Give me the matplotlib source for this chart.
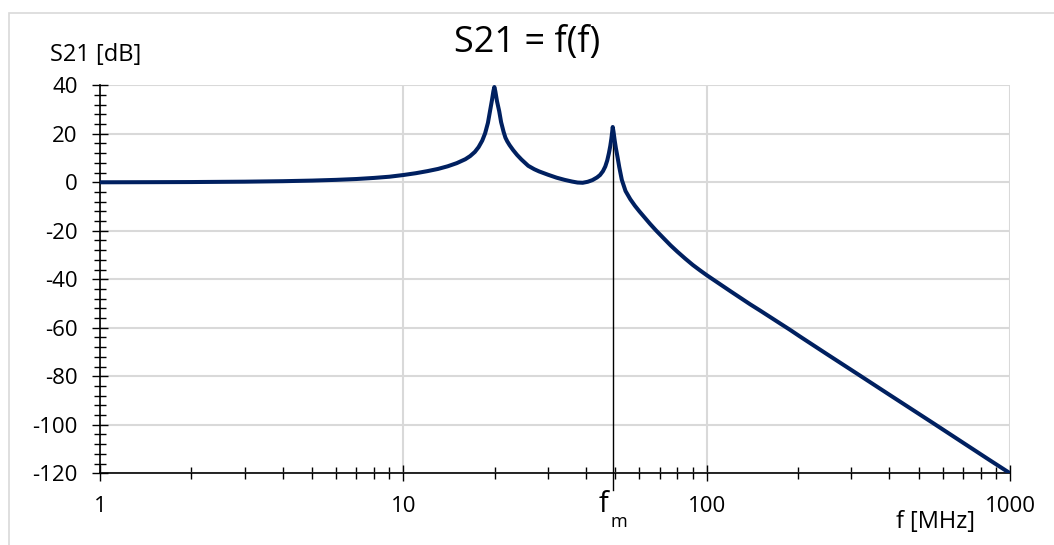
import numpy as np
import matplotlib
matplotlib.use("Agg")
import matplotlib.pyplot as plt
from matplotlib.ticker import FixedLocator, NullFormatter
from matplotlib.patches import Rectangle

plt.rcParams['font.family'] = ['Open Sans', 'DejaVu Sans']

# S21 values (f in MHz, S21 in dB)
freq = [1, 1.5, 2, 3, 4, 5, 6, 7, 8, 9, 10, 11, 12, 13, 14, 15, 16, 16.6,
        17.2, 17.7, 18.2, 18.6, 19.0, 19.3, 19.6, 19.8, 19.95, 20.1, 20.35,
        20.7, 21.0, 21.4, 21.7, 22.0, 22.4, 23.0, 23.7, 24.5, 25.8, 27, 28,
        30, 32, 34, 36, 37.5, 39, 40.5, 42, 43.5, 44.5, 45.5, 46.3, 47.0, 47.6,
        48.1, 48.5, 48.8, 49.0, 49.3, 49.7, 50.2, 50.8, 51.5, 52.5, 54, 56, 58,
        60, 62.5, 65, 68, 72, 76, 80, 85, 90, 95, 100, 105, 120, 139, 150, 175,
        188, 203, 250, 320, 400, 559, 700, 850, 1000]
s21 = [0, 0.05, 0.1, 0.25, 0.45, 0.7, 1.0, 1.35, 1.8, 2.3, 3.0, 3.75, 4.6,
       5.5, 6.6, 7.9, 9.5, 10.8, 12.5, 14.5, 17.2, 20.2, 24.5, 29.3, 34.0,
       37.5, 39.3, 37.5, 33.5, 29.3, 24.8, 20.8, 18.4, 16.9, 15.3, 13.3, 11.3,
       9.4, 6.8, 5.4, 4.5, 3.1, 1.9, 1.0, 0.3, -0.1, -0.2, 0.2, 0.9, 2.0, 3.0,
       4.6, 6.5, 9.0, 12.0, 15.0, 18.0, 20.8, 22.8, 20.8, 17.5, 14.0, 10.5,
       6.2, 1.0, -3.6, -7.0, -9.7, -12.0, -14.6, -17.1, -19.8, -23.0, -26.0,
       -28.6, -31.5, -34.1, -36.3, -38.3, -40.1, -45.0, -50.3, -52.9, -58.3,
       -60.8, -63.6, -71.0, -79.7, -87.6, -99.4, -107.4, -114.3, -120.0]
f_m = 49.0
f_m_peak = 22.8

y_major = [-120, -100, -80, -60, -40, -20, 0, 20, 40]
y_minor = list(range(-120, 41, 4))
x_major = [1, 10, 100, 1000]
x_minor = [m * d for d in (1, 10, 100) for m in range(2, 10)]

W, H = 1054, 545
fig = plt.figure(figsize=(W / 100, H / 100), dpi=100)
ax = fig.add_axes([0.0949, 0.1316, 0.8634, 0.7119])

# chart border (only top and left edges fall inside the image)
fig.patches.append(Rectangle((9 / W, -0.1), 1.2, 1 - 13 / H + 0.1,
                             transform=fig.transFigure, fill=False,
                             edgecolor='#D9D9D9', linewidth=1.2))

ax.set_xscale('log')
ax.set_xlim(1, 1000)
ax.set_ylim(-120, 40)

ax.xaxis.set_major_locator(FixedLocator(x_major))
ax.xaxis.set_minor_locator(FixedLocator(x_minor))
ax.xaxis.set_minor_formatter(NullFormatter())
ax.set_xticklabels(['1', '10', '100', '1000'])
ax.yaxis.set_major_locator(FixedLocator(y_major))
ax.yaxis.set_minor_locator(FixedLocator(y_minor))
ax.set_yticklabels([str(v) for v in y_major])

ax.grid(True, which='major', color='#D9D9D9', linewidth=1.5)
ax.set_axisbelow(True)
for s in ('top', 'right'):
    ax.spines[s].set_visible(False)
for s in ('left', 'bottom'):
    ax.spines[s].set_color('black')
    ax.spines[s].set_linewidth(1.2)
    ax.spines[s].set_zorder(1)

ax.tick_params(which='both', direction='inout', color='black', width=1.0,
               labelsize=16, labelcolor='#000000')
ax.tick_params(which='major', length=12)
ax.tick_params(which='minor', length=9)
ax.tick_params(axis='y', which='major', pad=10)
ax.tick_params(axis='x', which='major', pad=10)

ax.plot(freq, s21, color='#002060', linewidth=2.9, solid_joinstyle='round',
        solid_capstyle='round', zorder=3)
ax.plot([f_m, f_m], [-127, f_m_peak - 1], color='black', linewidth=1.0,
        clip_on=False, zorder=2)

fig.text(0.5, 1 - 43 / H, 'S21 = f(f)', ha='center', va='center',
         fontsize=26)
fig.text(50 / W, 1 - 67 / H, 'S21 [dB]', ha='left', va='bottom',
         fontsize=17)
fig.text(975 / W, 1 - 534 / H, 'f [MHz]', ha='right', va='bottom',
         fontsize=17)
# f_m label below the marker line
fig.text(599 / W, 1 - 512 / H, 'f', ha='left', va='baseline', fontsize=21)
fig.text(611 / W, 1 - 527 / H, 'm', ha='left', va='baseline', fontsize=13)

fig.savefig('out.png', dpi=100)
